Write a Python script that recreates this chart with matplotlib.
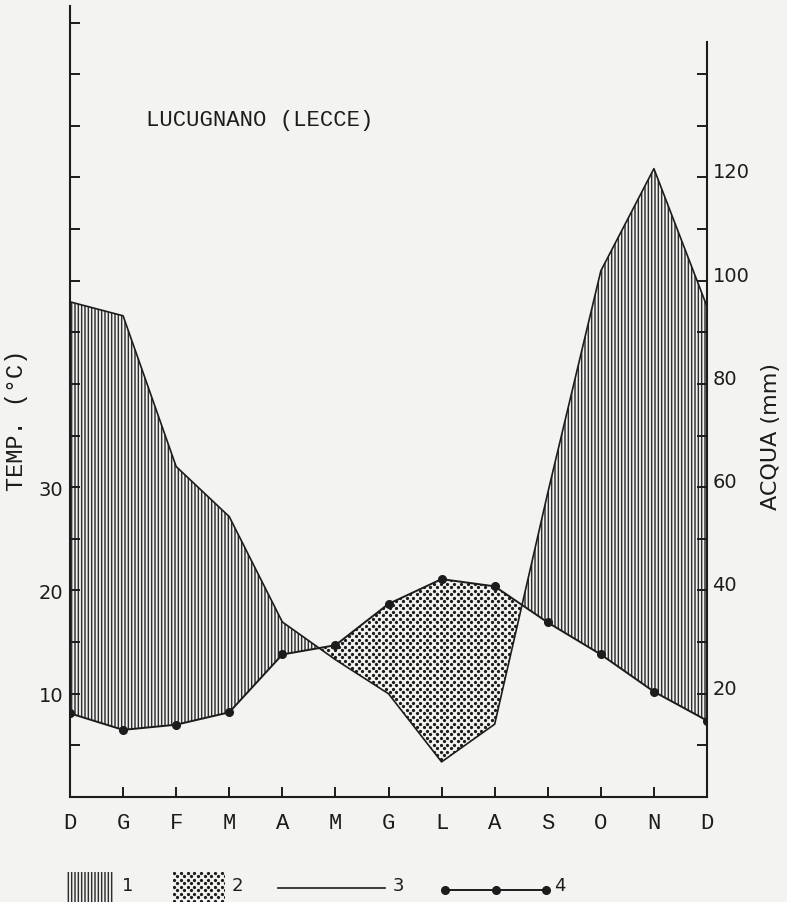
import numpy as np
import matplotlib.pyplot as plt
from matplotlib.patches import Rectangle

# Lucugnano (Lecce) - monthly means, December repeated at both ends
months = ["D", "G", "F", "M", "A", "M", "G", "L", "A", "S", "O", "N", "D"]
temp_c = [8.1, 6.5, 7.0, 8.2, 13.8, 14.7, 18.7, 21.1, 20.4, 16.9, 13.8, 10.2, 7.4]
rain_mm = [95.9, 93.2, 64.0, 54.3, 33.9, 26.6, 20.0, 6.8, 14.1, 58.9, 101.9, 121.7, 95.0]

temp_ticks = list(range(5, 80, 5))
temp_labelled = [10, 20, 30]
rain_ticks = list(range(10, 150, 10))
rain_labelled = [20, 40, 60, 80, 100, 120]
legend_keys = ["1", "2", "3", "4"]

INK = "#1c1c1c"
HATCH = "#2e2e2e"
PAPER = "#f3f3f1"
MONO = "Liberation Mono"
SANS = "DejaVu Sans"

plt.rcParams["hatch.linewidth"] = 1.05

W, H = 787, 903
fig = plt.figure(figsize=(W / 100, H / 100), dpi=100, facecolor=PAPER)
ax = fig.add_axes([70 / W, 105 / H, 637 / W, 791 / H])
ax.set_facecolor("none")
ax.set_xlim(0, 12)
ax.set_ylim(0, 76.6)

x = np.arange(len(months))
t = np.array(temp_c)
half_rain = np.array(rain_mm) / 2  # Bagnouls-Gaussen: P = 2T

# humid months (vertical hatching) and dry months (dots)
ax.fill_between(x, t, half_rain, where=half_rain >= t, interpolate=True,
                facecolor="none", edgecolor=HATCH, hatch="|||||", linewidth=0)
dry = ax.fill_between(x, t, half_rain, where=half_rain < t, interpolate=True,
                      facecolor="none", edgecolor="none", linewidth=0)


def dot_grid(x0, x1, y0, y1, dx, dy):
    gx = np.arange(x0, x1, dx)
    gy = np.arange(y0, y1, dy)
    gxx, gyy = np.meshgrid(gx, gy)
    gxx[1::2] += dx / 2
    return gxx.ravel(), gyy.ravel()


px_x = 637 / 12
px_y = 791 / 76.6
dx_pts, dy_pts = dot_grid(0, 12, 0, 30, 6.8 / px_x, 3.5 / px_y)
dots = ax.scatter(dx_pts, dy_pts, s=5.5, color=INK, linewidths=0, zorder=2)
dots.set_clip_path(dry.get_paths()[0], ax.transData)

ax.plot(x, temp_c, color=INK, lw=1.4, marker="o", ms=5.5, zorder=4)

ax2 = ax.twinx()
ax2.set_ylim(0, 153.2)
ax2.plot(x, rain_mm, color=INK, lw=1.2, zorder=3)

for name in ("top", "right"):
    ax.spines[name].set_visible(False)
for name in ("top", "left", "bottom"):
    ax2.spines[name].set_visible(False)
ax.spines["left"].set_linewidth(1.5)
ax.spines["bottom"].set_linewidth(1.5)
ax2.spines["right"].set_linewidth(1.5)
ax2.spines["right"].set_bounds(0, 146.3)
for s in ax.spines.values():
    s.set_color(INK)
for s in ax2.spines.values():
    s.set_color(INK)

ax.set_xticks(x, months, fontfamily=MONO, fontsize=16)
ax.tick_params(axis="x", direction="in", length=7.5, width=1.4, pad=11, colors=INK)

ax.set_yticks(temp_ticks, [str(v) if v in temp_labelled else "" for v in temp_ticks])
ax.tick_params(axis="y", direction="in", length=7, width=1.4, pad=5,
               labelsize=14, colors=INK)
ax2.set_yticks(rain_ticks, [str(v) if v in rain_labelled else "" for v in rain_ticks])
ax2.tick_params(axis="y", direction="in", length=7, width=1.4, pad=4,
                labelsize=14, colors=INK)
for lab in ax.get_yticklabels() + ax2.get_yticklabels():
    lab.set_fontfamily(SANS)
for lab in ax2.get_yticklabels():
    lab.set_va("baseline")

fig.text(260 / W, 1 - 121 / H, "LUCUGNANO (LECCE)", ha="center", va="center",
         fontfamily=MONO, fontsize=16, color=INK)
fig.text(17 / W, 1 - 420 / H, "TEMP. (°C)", rotation=90, ha="center", va="center",
         fontfamily=MONO, fontsize=17, color=INK)
fig.text(771 / W, 1 - 437 / H, "ACQUA (mm)", rotation=90, ha="center", va="center",
         fontfamily=SANS, fontsize=16, color=INK)

# legend row drawn in pixel space
lg = fig.add_axes([0, 0, 1, 1], facecolor="none")
lg.set_xlim(0, W)
lg.set_ylim(H, 0)
lg.axis("off")

lg.add_patch(Rectangle((67, 873), 46, 32, facecolor="none", edgecolor=HATCH,
                       hatch="|||||", linewidth=0))
swatch = Rectangle((173, 873), 51, 32, facecolor="none", edgecolor="none", linewidth=0)
lg.add_patch(swatch)
sx, sy = dot_grid(174, 226, 874, 906, 6.8, 3.5)
sd = lg.scatter(sx, sy, s=5.5, color=INK, linewidths=0)
sd.set_clip_path(swatch)

lg.plot([278, 385], [889, 889], color=INK, lw=1.2)
lg.plot([445, 496, 546], [891, 891, 891], color=INK, lw=1.4, marker="o", ms=5.5)

for key, kx in zip(legend_keys, [128, 237, 398, 560]):
    lg.text(kx, 886, key, ha="center", va="center", fontfamily=SANS,
            fontsize=13, color=INK)

fig.savefig("out.png", dpi=100, facecolor=PAPER)
